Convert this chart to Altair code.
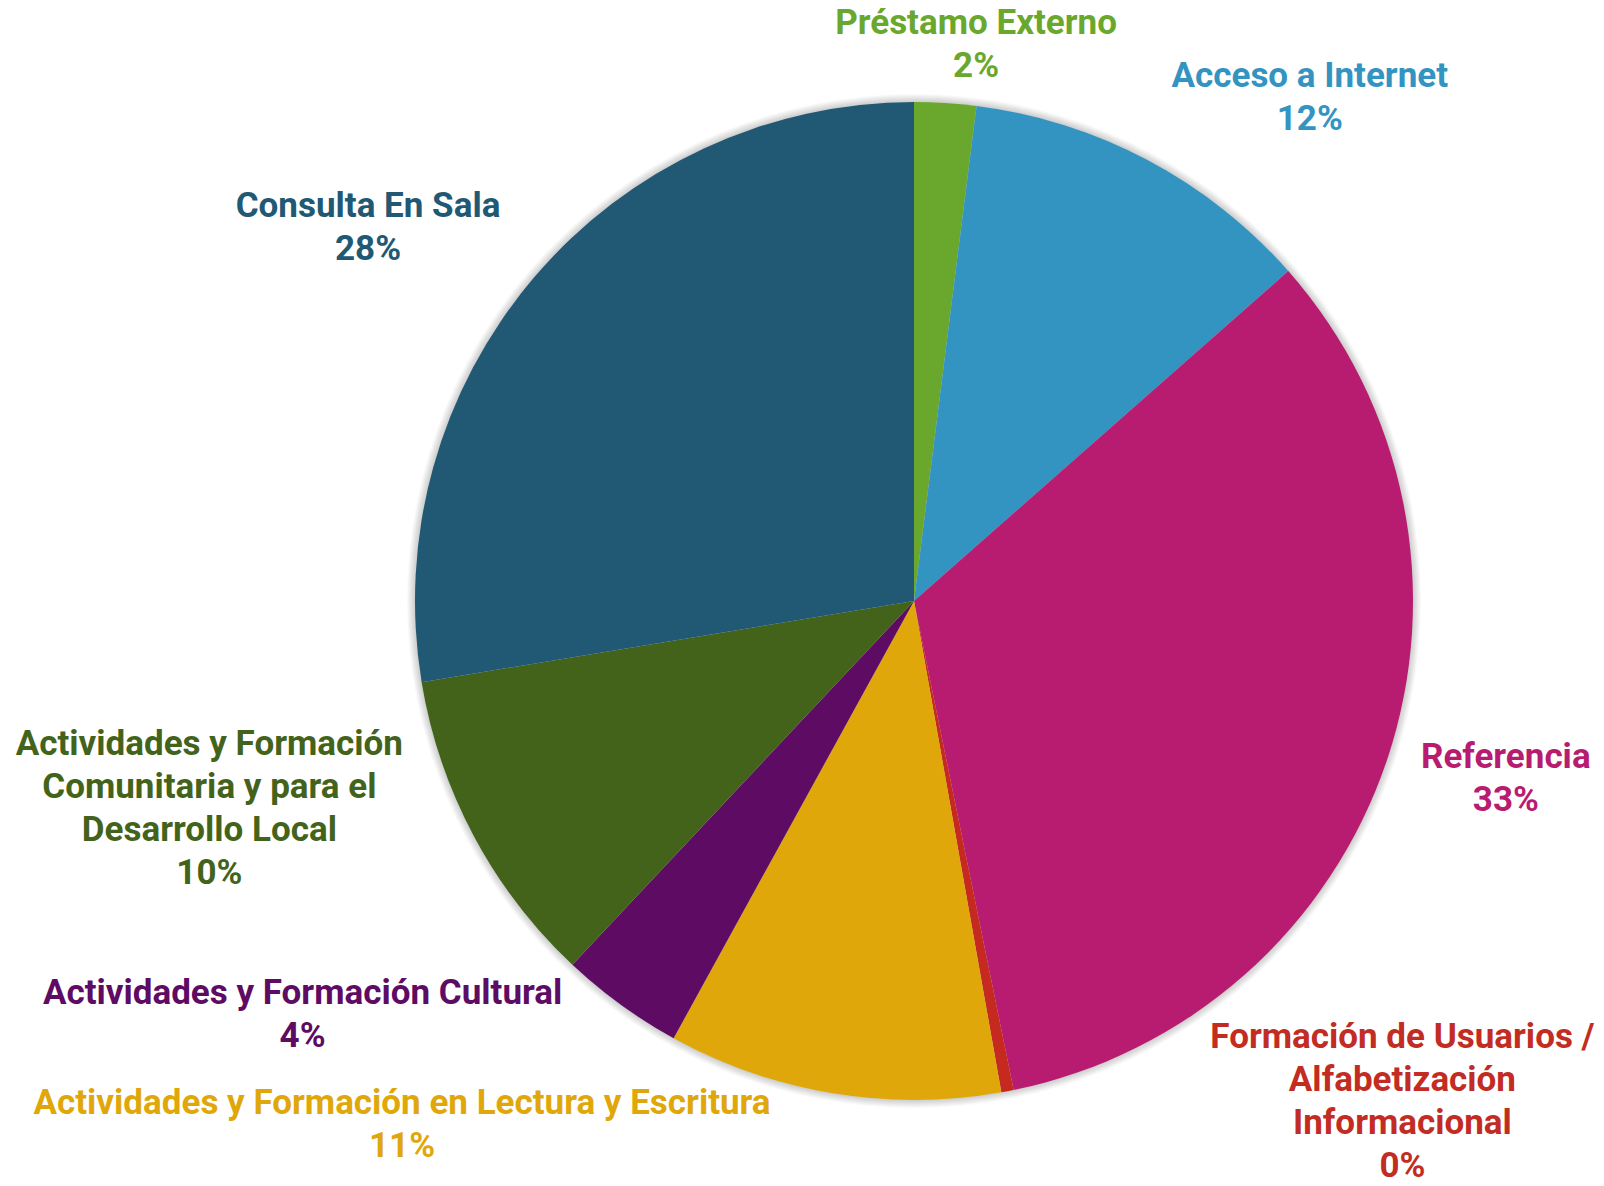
import altair as alt
import pandas as pd

# ---- data ----
categories = [
    "Préstamo Externo",
    "Acceso a Internet",
    "Referencia",
    "Formación de Usuarios /\nAlfabetización\nInformacional",
    "Actividades y Formación en Lectura y Escritura",
    "Actividades y Formación Cultural",
    "Actividades y Formación\nComunitaria y para el\nDesarrollo Local",
    "Consulta En Sala",
]
values = [2.0, 11.5, 33.3, 0.4, 10.8, 4.0, 10.4, 27.6]
colors = ["#6aa72d", "#3494c1", "#b71c70", "#c5291f", "#e0a70b", "#5e0b64", "#43631b", "#215873"]
label_colors = ["#6aa72d", "#3494c1", "#b71c70", "#c22c22", "#e0a70b", "#5e0b64", "#43631b", "#215873"]

df = pd.DataFrame({
    "idx": list(range(len(categories))),
    "cat": categories,
    "value": values,
    "label": [f"{c}\n{round(v)}%" for c, v in zip(categories, values)],
})

# ---- layout (styling only) ----
R = 499
FONT = "Roboto"
FS = 35
LH = 43
# per-label: (radius, dx, dy)
label_layout = [
    (558, 27, -21.5),
    (600, 115, 5.5),
    (620, 4, -41.5),
    (600, 376, -153),
    (590, -416, -80.5),
    (620, -247, -109.5),
    (640, -140, -158.5),
    (640, -58, 19.5),
]

total = sum(values)

# soft glow / shadow under the pie
shadow_df = pd.DataFrame({"v": [1]})
shadow_layers = []
for k in range(1, 9):
    shadow_layers.append(
        alt.Chart(shadow_df).mark_arc(radius=R + k, color="#000000", opacity=0.025)
        .encode(theta=alt.Theta("v:Q", scale=alt.Scale(domain=[0, 1])))
    )

pie = alt.Chart(df).mark_arc(radius=R, stroke=None).encode(
    theta=alt.Theta("value:Q", stack=True),
    order=alt.Order("idx:Q"),
    color=alt.Color("cat:N", scale=alt.Scale(domain=categories, range=colors), legend=None),
)

base_text = alt.Chart(df).transform_window(
    cum="sum(value)", sort=[alt.SortField("idx")], frame=[None, 0]
).transform_calculate(mid="datum.cum - datum.value / 2")

text_layers = []
for i, cat in enumerate(categories):
    r, dx, dy = label_layout[i]
    text_layers.append(
        base_text.transform_filter(alt.datum.idx == i).mark_text(
            radius=r, dx=dx, dy=dy, font=FONT, fontSize=FS, fontWeight="bold",
            color=label_colors[i], align="center", baseline="middle",
            lineBreak="\n", lineHeight=LH,
        ).encode(
            theta=alt.Theta("mid:Q", scale=alt.Scale(domain=[0, total])),
            text="label:N",
        )
    )

chart = alt.layer(*shadow_layers, pie, *text_layers).resolve_scale(
    theta="independent"
).properties(
    width=2 * R, height=2 * R,
    autosize=alt.AutoSizeParams(type="none"),
    padding={"left": 407, "top": 94, "right": 183, "bottom": 78},
).configure_view(stroke=None)

chart.save("out.html", embed_options={"renderer": "svg", "actions": False})
